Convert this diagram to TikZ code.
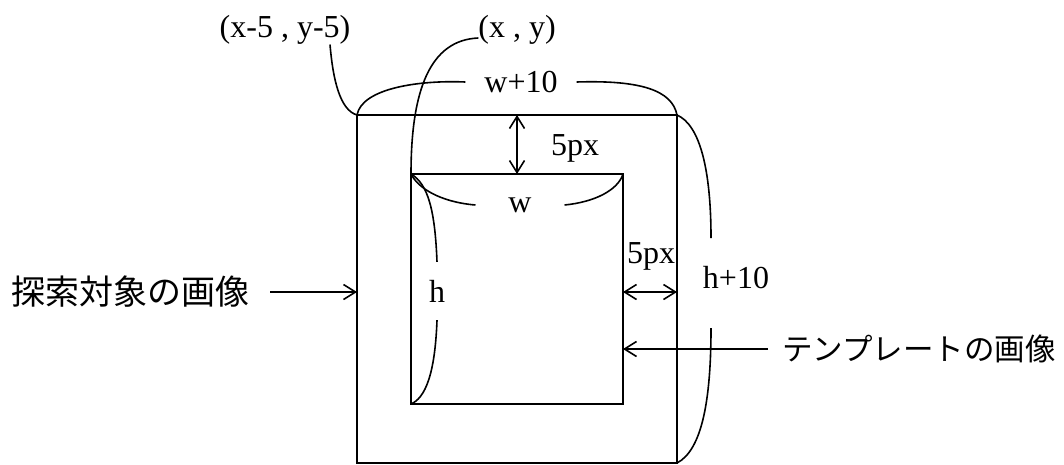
\documentclass[tikz,border=0pt]{standalone}
\usepackage{fontspec}
\setmainfont{Liberation Serif}
\newfontfamily\jpfont{Noto Sans CJK JP}
\usetikzlibrary{arrows.meta,positioning}

\begin{document}
\begin{tikzpicture}[
        x=1pt, y=-1pt,
        frame/.style={draw, line width=1.9pt, inner sep=0pt, outer sep=0pt},
        lbl/.style={font=\fontsize{32}{38}\selectfont, inner sep=0pt, outer sep=0pt},
        jlbl/.style={font=\jpfont\fontsize{34}{40}\selectfont, inner sep=0pt, outer sep=0pt},
        brace/.style={line width=1.6pt},
        arr/.style={-{Straight Barb[length=12pt,width=15pt]}, line width=1.6pt},
        dim/.style={{Straight Barb[length=12pt,width=15pt]}-{Straight Barb[length=12pt,width=15pt]}, line width=1.6pt}
    ]
    \useasboundingbox (0,0) rectangle (1064,464);

    \node[frame, minimum width=320pt, minimum height=348pt] (outer) at (517,289) {};
    \node[frame, minimum width=212pt, minimum height=230pt] (inner) at (517,289) {};

    \node[lbl] (corner) at (285,30) {(x-5 , y-5)};
    \node[lbl] (origin) at (517,30) {(x , y)};
    \node[lbl, inner xsep=19pt] (wten) at (521,82) {w+10};
    \node[lbl] (toppx) at (575,148) {5px};
    \node[lbl, inner xsep=33pt] (w) at (520,205) {w};
    \node[lbl] (sidepx) at (651,256) {5px};
    \node[lbl, inner ysep=18pt] (h) at (437,291) {h};
    \node[lbl] (hten) at (736,278) {h+10};
    \coordinate (hten top) at (711,238);
    \coordinate (hten bottom) at (711,328);

    \node[jlbl, anchor=west] (search) at (11,292) {探索対象の画像};
    \node[jlbl, anchor=west, font=\jpfont\fontsize{30.5}{36}\selectfont] (templ) at (782,349) {テンプレートの画像};

    \draw[brace] ([xshift=45pt]corner.south) .. controls (333,80) and (340,110) .. (outer.north west);
    \draw[brace] ([yshift=-8pt]origin.west) .. controls (430,40) and (411,90) .. (inner.north west);

    \draw[brace] (outer.north west) .. controls (362,88) and (420,80) .. (wten.west);
    \draw[brace] (wten.east) .. controls (640,80) and (672,90) .. (outer.north east);
    \draw[brace] (inner.north west) .. controls (418,188) and (440,202) .. (w.west);
    \draw[brace] (w.east) .. controls (595,202) and (618,190) .. (inner.north east);
    \draw[brace] (inner.north west) .. controls (428,184) and (435,210) .. (h.north);
    \draw[brace] (h.south) .. controls (435,375) and (425,398) .. (inner.south west);
    \draw[brace] (outer.north east) .. controls (700,125) and (711,170) .. (hten top);
    \draw[brace] (hten bottom) .. controls (711,400) and (702,450) .. (outer.south east);

    \draw[dim] (inner.north) -- (outer.north);
    \draw[dim] ([yshift=-3pt]inner.east) -- ([yshift=-3pt]outer.east);

    \draw[arr, shorten <=21pt] (search.east) -- (search.east -| outer.west);
    \draw[arr, shorten <=14pt] (templ.west) -- (templ.west -| inner.east);
\end{tikzpicture}
\end{document}
